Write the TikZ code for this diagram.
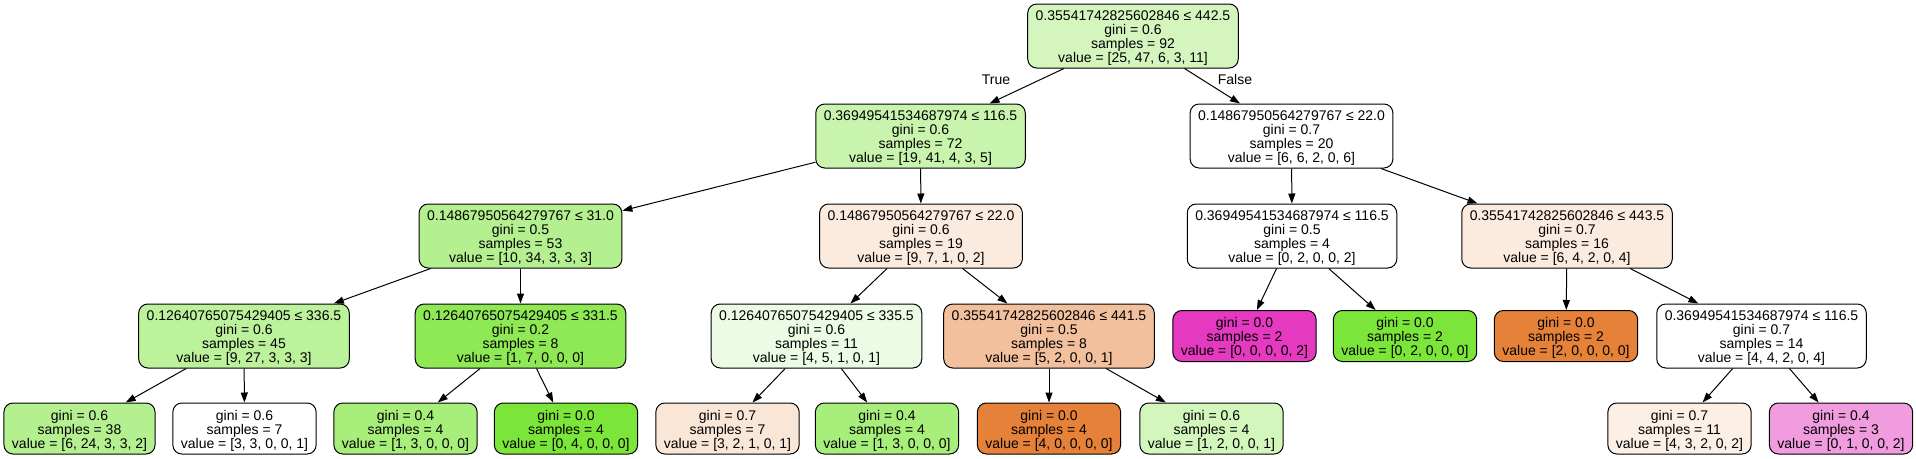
\documentclass[tikz,border=0pt]{standalone}
\usepackage{fontspec}
\setmainfont{Liberation Sans}
\usepackage{xcolor}
\usetikzlibrary{arrows.meta}

\definecolor{grnA}{RGB}{212,246,190}
\definecolor{grnB}{RGB}{200,244,173}
\definecolor{grnC}{RGB}{181,240,144}
\definecolor{grnD}{RGB}{189,242,156}
\definecolor{grnE}{RGB}{142,233,85}
\definecolor{grnF}{RGB}{236,251,227}
\definecolor{grnG}{RGB}{167,238,123}
\definecolor{grnH}{RGB}{211,246,189}
\definecolor{grnX}{RGB}{123,229,57}
\definecolor{orgA}{RGB}{251,234,222}
\definecolor{orgB}{RGB}{242,192,156}
\definecolor{orgC}{RGB}{250,230,215}
\definecolor{orgD}{RGB}{252,239,230}
\definecolor{orgX}{RGB}{229,129,57}
\definecolor{pnkA}{RGB}{242,156,224}
\definecolor{pnkX}{RGB}{229,57,192}

\newcommand{\nodelines}[1]{\raisebox{-2.5pt}[\height][\depth]{\renewcommand{\arraystretch}{0.9}\begin{tabular}{@{}c@{}}#1\end{tabular}}}

\begin{document}
\begin{tikzpicture}[x=1pt,y=-1pt,auto,
    main node/.style={rectangle,draw,rounded corners=9pt,line width=1pt,
      inner xsep=8pt,inner ysep=2pt,minimum height=64pt,font=\fontsize{14}{14}\selectfont},
    leaf node/.style={main node,minimum height=51pt},
    edge label/.style={font=\fontsize{14}{14}\selectfont,inner sep=0pt}]
  \useasboundingbox (0,0) rectangle (1916,458);
  % depth 0
  \node[main node,fill=grnA] (0) at (1133,36) {\nodelines{0.35541742825602846 ≤ 442.5\\gini = 0.6\\samples = 92\\value = [25, 47, 6, 3, 11]}};
  % depth 1
  \node[main node,fill=grnB] (1) at (920.5,136) {\nodelines{0.36949541534687974 ≤ 116.5\\gini = 0.6\\samples = 72\\value = [19, 41, 4, 3, 5]}};
  \node[main node,fill=white] (16) at (1291.5,136) {\nodelines{0.14867950564279767 ≤ 22.0\\gini = 0.7\\samples = 20\\value = [6, 6, 2, 0, 6]}};
  % depth 2
  \node[main node,fill=grnC] (2) at (520.5,236) {\nodelines{0.14867950564279767 ≤ 31.0\\gini = 0.5\\samples = 53\\value = [10, 34, 3, 3, 3]}};
  \node[main node,fill=orgA] (9) at (921,236) {\nodelines{0.14867950564279767 ≤ 22.0\\gini = 0.6\\samples = 19\\value = [9, 7, 1, 0, 2]}};
  \node[main node,fill=white] (17) at (1292,236) {\nodelines{0.36949541534687974 ≤ 116.5\\gini = 0.5\\samples = 4\\value = [0, 2, 0, 0, 2]}};
  \node[main node,fill=orgA] (20) at (1567,236) {\nodelines{0.35541742825602846 ≤ 443.5\\gini = 0.7\\samples = 16\\value = [6, 4, 2, 0, 4]}};
  % depth 3
  \node[main node,fill=grnD] (3) at (244,336) {\nodelines{0.12640765075429405 ≤ 336.5\\gini = 0.6\\samples = 45\\value = [9, 27, 3, 3, 3]}};
  \node[main node,fill=grnE] (6) at (520.5,336) {\nodelines{0.12640765075429405 ≤ 331.5\\gini = 0.2\\samples = 8\\value = [1, 7, 0, 0, 0]}};
  \node[main node,fill=grnF] (10) at (816.5,336) {\nodelines{0.12640765075429405 ≤ 335.5\\gini = 0.6\\samples = 11\\value = [4, 5, 1, 0, 1]}};
  \node[main node,fill=orgB] (13) at (1049,336) {\nodelines{0.35541742825602846 ≤ 441.5\\gini = 0.5\\samples = 8\\value = [5, 2, 0, 0, 1]}};
  \node[leaf node,fill=pnkX] (18) at (1244.5,336) {\nodelines{gini = 0.0\\samples = 2\\value = [0, 0, 0, 0, 2]}};
  \node[leaf node,fill=grnX] (19) at (1405,336) {\nodelines{gini = 0.0\\samples = 2\\value = [0, 2, 0, 0, 0]}};
  \node[leaf node,fill=orgX] (21) at (1566,336) {\nodelines{gini = 0.0\\samples = 2\\value = [2, 0, 0, 0, 0]}};
  \node[main node,fill=white] (22) at (1761.5,336) {\nodelines{0.36949541534687974 ≤ 116.5\\gini = 0.7\\samples = 14\\value = [4, 4, 2, 0, 4]}};
  % depth 4
  \node[leaf node,fill=grnC] (4) at (79.5,428.5) {\nodelines{gini = 0.6\\samples = 38\\value = [6, 24, 3, 3, 2]}};
  \node[leaf node,fill=white] (5) at (244.5,428.5) {\nodelines{gini = 0.6\\samples = 7\\value = [3, 3, 0, 0, 1]}};
  \node[leaf node,fill=grnG] (7) at (405.5,428.5) {\nodelines{gini = 0.4\\samples = 4\\value = [1, 3, 0, 0, 0]}};
  \node[leaf node,fill=grnX] (8) at (566,428.5) {\nodelines{gini = 0.0\\samples = 4\\value = [0, 4, 0, 0, 0]}};
  \node[leaf node,fill=orgC] (11) at (727.5,428.5) {\nodelines{gini = 0.7\\samples = 7\\value = [3, 2, 1, 0, 1]}};
  \node[leaf node,fill=grnG] (12) at (887,428.5) {\nodelines{gini = 0.4\\samples = 4\\value = [1, 3, 0, 0, 0]}};
  \node[leaf node,fill=orgX] (14) at (1049,428.5) {\nodelines{gini = 0.0\\samples = 4\\value = [4, 0, 0, 0, 0]}};
  \node[leaf node,fill=grnH] (15) at (1211.5,428.5) {\nodelines{gini = 0.6\\samples = 4\\value = [1, 2, 0, 0, 1]}};
  \node[leaf node,fill=orgD] (23) at (1679.5,428.5) {\nodelines{gini = 0.7\\samples = 11\\value = [4, 3, 2, 0, 2]}};
  \node[leaf node,fill=pnkA] (24) at (1841,428.5) {\nodelines{gini = 0.4\\samples = 3\\value = [0, 1, 0, 0, 2]}};
  % split outcomes
  \node[edge label] (true) at (996,80) {True};
  \node[edge label] (false) at (1235,79) {False};
  \path[line width=1pt,-{Triangle[length=10pt,width=7pt]}]
    (0) edge (1)
    (0) edge (16)
    (1) edge (2)
    (1) edge (9)
    (2) edge (3)
    (2) edge (6)
    (3) edge (4)
    (3) edge (5)
    (6) edge (7)
    (6) edge (8)
    (9) edge (10)
    (9) edge (13)
    (10) edge (11)
    (10) edge (12)
    (13) edge (14)
    (13) edge (15)
    (16) edge (17)
    (16) edge (20)
    (17) edge (18)
    (17) edge (19)
    (20) edge (21)
    (20) edge (22)
    (22) edge (23)
    (22) edge (24);
\end{tikzpicture}
\end{document}
